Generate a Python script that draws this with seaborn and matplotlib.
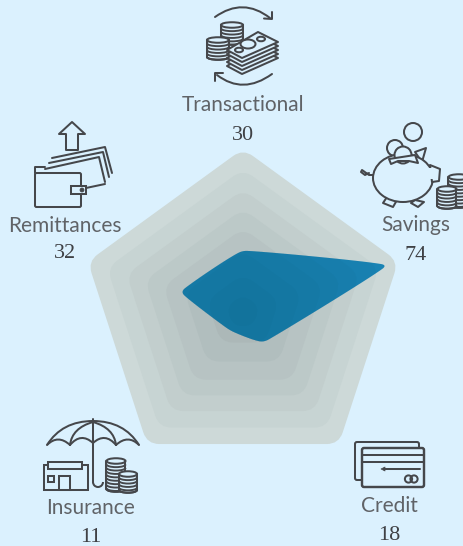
import numpy as np
import matplotlib
matplotlib.use("Agg")
import matplotlib.pyplot as plt
from matplotlib.path import Path
from matplotlib.patches import PathPatch, Circle, Ellipse, Arc, Rectangle, FancyBboxPatch, Polygon
import seaborn as sns

categories = ["Transactional", "Savings", "Credit", "Insurance", "Remittances"]
values = [30, 74, 18, 11, 32]
ring_levels = [80, 70, 60, 50.5, 41, 30, 18.5, 8.5]
start_angle_deg = 90

BG = "#DBF1FE"
INK = "#45474B"
TXT = "#606367"
BLUE = "#1A86B8"
CX, CY, SCALE = 243, 312, 2.04

sns.set_theme(style="white", rc={"figure.facecolor": BG, "axes.facecolor": BG, "savefig.facecolor": BG})
ring_colors = sns.blend_palette(["#CDD9D8", "#A6B3B3"], len(ring_levels))

fig = plt.figure(figsize=(4.64, 5.46), dpi=100)
ax = fig.add_axes([0, 0, 1, 1])


def set_limits():
    ax.set_xlim(-CX / SCALE, (464 - CX) / SCALE)
    ax.set_ylim(-(546 - CY) / SCALE, CY / SCALE)
    ax.axis("off")


set_limits()
angles = np.deg2rad(start_angle_deg - 72 * np.arange(len(categories)))


def vertices(radii):
    return np.column_stack([np.asarray(radii) * np.cos(angles), np.asarray(radii) * np.sin(angles)])


def rounded(pts, cut):
    n = len(pts)
    verts, codes = [], []
    for i in range(n):
        p, a, b = pts[i], pts[i - 1], pts[(i + 1) % n]
        la, lb = np.linalg.norm(a - p), np.linalg.norm(b - p)
        d1 = min(cut, la * 0.49)
        d2 = min(cut, lb * 0.49)
        s = p + (a - p) / la * d1
        e = p + (b - p) / lb * d2
        verts += [s, p, e]
        codes += [Path.LINETO if i else Path.MOVETO, Path.CURVE3, Path.CURVE3]
    verts.append(verts[0])
    codes.append(Path.CLOSEPOLY)
    return Path(np.array(verts), codes)


def smooth_cardinal(pts, tension, window):
    """Closed cardinal spline through the points, its tips softened along its length."""
    n = len(pts)
    k = (1 - tension) / 6
    t = np.linspace(0, 1, 60, endpoint=False)[:, None]
    out = []
    for i in range(n):
        p0, p1, p2, p3 = pts[i - 1], pts[i], pts[(i + 1) % n], pts[(i + 2) % n]
        c1, c2 = p1 + (p2 - p0) * k, p2 - (p3 - p1) * k
        out.append((1 - t) ** 3 * p1 + 3 * (1 - t) ** 2 * t * c1 + 3 * (1 - t) * t ** 2 * c2 + t ** 3 * p2)
    out = np.vstack(out)
    closed = np.vstack([out, out[:1]])
    s = np.r_[0, np.cumsum(np.linalg.norm(np.diff(closed, axis=0), axis=1))]
    step = 0.2
    u = np.arange(0, s[-1], step)
    xy = np.column_stack([np.interp(u, s, closed[:, 0]), np.interp(u, s, closed[:, 1])])
    m = int(window / step)
    kernel = np.ones(m) / m
    wrapped = np.vstack([xy[-m:], xy, xy[:m]])
    sm = np.column_stack([np.convolve(wrapped[:, j], kernel, mode="same") for j in range(2)])[m:-m]
    return Path(np.vstack([sm, sm[:1]]), closed=True)


CUT = 6
for lvl, col in zip(ring_levels, ring_colors):
    ax.add_patch(PathPatch(rounded(vertices([lvl] * 5), CUT), fc=col, ec="none", zorder=2))

data_pts = vertices(values)
blue = PathPatch(smooth_cardinal(data_pts, 0.82, 5), fc=BLUE, ec="none", zorder=3)
ax.add_patch(blue)
for lvl in ring_levels:
    p = PathPatch(rounded(vertices([lvl] * 5), CUT), fc="#0F4A5C", ec="none", alpha=0.04, zorder=4)
    ax.add_patch(p)
    p.set_clip_path(blue)

sns.lineplot(x=list(data_pts[:, 0]), y=list(data_pts[:, 1]), sort=False, estimator=None,
             ax=ax, color=BLUE, lw=0, legend=False)
set_limits()

ov = fig.add_axes([0, 0, 1, 1], facecolor="none")
ov.set_xlim(0, 464)
ov.set_ylim(546, 0)
ov.axis("off")

LW = 1.45
lab_pos = [(243, 105), (416, 225), (389, 506), (91, 508), (65, 226)]
val_pos = [(243, 135), (416, 255), (389, 535), (91, 537), (65, 254)]
for c, v, lp, vp in zip(categories, values, lab_pos, val_pos):
    ov.text(*lp, c, family="Lato", fontsize=15, color=TXT, ha="center", va="center")
    ov.text(*vp, str(v), family="Liberation Serif", fontsize=16, color="#3F4145", ha="center", va="center")


def line(xs, ys, z=6, lw=LW):
    ov.plot(xs, ys, color=INK, lw=lw, solid_capstyle="round", solid_joinstyle="round", zorder=z)


def curve(p0, p1, p2, z=6, fc="none"):
    ov.add_patch(PathPatch(Path([p0, p1, p2], [Path.MOVETO, Path.CURVE3, Path.CURVE3]),
                           fc=fc, ec=INK, lw=LW, capstyle="round", zorder=z))


def poly(pts, z=6, fc=BG, lw=LW):
    ov.add_patch(Polygon(pts, closed=True, fc=fc, ec=INK, lw=lw, joinstyle="round", zorder=z))


def coins(cx, top, bottom, w, z=6):
    h = 5.5
    ov.add_patch(Ellipse((cx, bottom), w, h, fc=BG, ec=INK, lw=LW, zorder=z))
    ov.add_patch(Rectangle((cx - w / 2, top), w, bottom - top, fc=BG, ec="none", zorder=z))
    line([cx - w / 2] * 2, [top, bottom], z + 0.1)
    line([cx + w / 2] * 2, [top, bottom], z + 0.1)
    ov.add_patch(Arc((cx, bottom), w, h, theta1=0, theta2=180, ec=INK, lw=LW, zorder=z + 0.1))
    y = top + 3.4
    while y < bottom - 0.5:
        ov.add_patch(Arc((cx, y), w, h, theta1=0, theta2=180, ec=INK, lw=LW * 0.95, zorder=z + 0.1))
        y += 3.4
    ov.add_patch(Ellipse((cx, top), w, h, fc=BG, ec=INK, lw=LW, zorder=z + 0.2))


# Transactional
curve((215, 17), (243, -3), (270, 18))
line([272, 272, 264], [12, 19, 18.5])
curve((217, 75), (243, 95), (272, 74))
line([223, 215, 215], [73, 73, 81])
coins(232, 25, 42, 22, z=6)
coins(218, 40, 57, 22, z=7)
for dy in (16, 12, 8, 4, 0):
    poly([(258, 32 + dy), (278, 42 + dy), (242, 58 + dy), (227, 50 + dy)], z=8 + (16 - dy) * 0.01)
ov.add_patch(Ellipse((248, 44), 15, 9, fc=BG, ec=INK, lw=LW, zorder=9))
ov.add_patch(Ellipse((239, 50), 8, 4.5, fc=BG, ec=INK, lw=LW, zorder=9))
ov.add_patch(Ellipse((261, 39), 8, 4.5, fc=BG, ec=INK, lw=LW, zorder=9))

# Remittances
poly([(72, 122), (85, 134), (78, 134), (78, 150), (66, 150), (66, 134), (59, 134)], fc="none")
for (a, b, c) in [((52, 158), (105, 147), (112, 173)), ((49, 163), (103, 152), (109, 177)), ((45, 169), (99, 157), (105, 182))]:
    line([a[0], b[0], c[0]], [a[1], b[1], c[1]])
line([35, 35, 45], [173, 167, 167])
ov.add_patch(FancyBboxPatch((35, 173), 46, 34, boxstyle="round,pad=0,rounding_size=1.5", fc=BG, ec=INK, lw=LW, zorder=7))
ov.add_patch(Rectangle((71, 186), 15, 8, fc=BG, ec=INK, lw=LW, zorder=8))
ov.add_patch(Circle((82, 190), 2, fc=INK, ec=INK, lw=0.5, zorder=9))
line([86, 105], [188, 184])

# Savings
ov.add_patch(Circle((413, 132), 9, fc="none", ec=INK, lw=LW, zorder=6))
ov.add_patch(Circle((395, 148), 8, fc=BG, ec=INK, lw=LW, zorder=5))
poly([(387, 197), (383, 203), (393, 207), (397, 200)], z=5)
poly([(415, 200), (411, 203), (418, 207), (424, 202)], z=5)
poly([(415, 152), (426, 148), (422, 162)], z=5)
ov.add_patch(Ellipse((403, 178), 60, 48, fc=BG, ec=INK, lw=LW, zorder=6))
poly([(430, 165), (440, 169), (439, 181), (432, 182)], z=6.5)
ov.add_patch(Rectangle((425, 168), 10, 11, fc=BG, ec="none", zorder=6.6))
ov.add_patch(Circle((403, 155), 8.5, fc=BG, ec=INK, lw=LW, zorder=7))
poly([(389, 159), (415, 155), (418, 163), (409, 161), (398, 161), (391, 164)], z=7.5)
line([373, 369, 362, 361, 365, 369], [175, 175, 170, 172, 175, 173])
coins(459, 177, 205, 21, z=7)
coins(447, 189, 206, 19, z=8)

# Insurance
ov.add_patch(PathPatch(Path([(47, 445), (62, 421), (93, 421), (124, 421), (139, 445)],
                            [Path.MOVETO, Path.CURVE3, Path.CURVE3, Path.CURVE3, Path.CURVE3]),
                       fc="none", ec=INK, lw=LW, zorder=6))
curve((47, 445), (58, 434), (70, 445))
curve((70, 445), (81, 432), (93, 443))
curve((93, 443), (105, 432), (116, 445))
curve((116, 445), (128, 434), (139, 445))
curve((93, 422), (72, 428), (70, 445))
curve((93, 422), (114, 428), (116, 445))
line([93, 93], [419, 482])
ov.add_patch(Arc((98, 482), 10, 10, theta1=0, theta2=180, ec=INK, lw=LW, zorder=6))
ov.add_patch(Rectangle((44, 465), 44, 25, fc="none", ec=INK, lw=LW, zorder=6))
ov.add_patch(Rectangle((48, 462), 34, 7, fc=BG, ec=INK, lw=LW, zorder=7))
ov.add_patch(Rectangle((59, 476), 11, 14, fc="none", ec=INK, lw=LW, zorder=7))
ov.add_patch(Rectangle((48, 476), 6, 6, fc="none", ec=INK, lw=LW, zorder=7))
coins(116, 461, 489, 19, z=7)
coins(128, 474, 490, 18, z=8)

# Credit
ov.add_patch(FancyBboxPatch((355, 442), 64, 38, boxstyle="round,pad=0,rounding_size=2", fc="none", ec=INK, lw=LW, zorder=6))
ov.add_patch(FancyBboxPatch((362, 448), 62, 39, boxstyle="round,pad=0,rounding_size=2", fc=BG, ec=INK, lw=LW * 1.2, zorder=7))
line([362, 424], [455, 455], 8)
line([362, 424], [462, 462], 8)
line([385, 420], [469, 469], 8)
poly([(381, 469), (385, 467), (385, 471)], z=8, fc=INK, lw=0.5)
ov.add_patch(Circle((408.5, 479), 3.6, fc="none", ec=INK, lw=LW, zorder=8))
ov.add_patch(Circle((414, 479), 3.6, fc="none", ec=INK, lw=LW, zorder=8))

fig.savefig("out.png", dpi=100, facecolor=BG)
